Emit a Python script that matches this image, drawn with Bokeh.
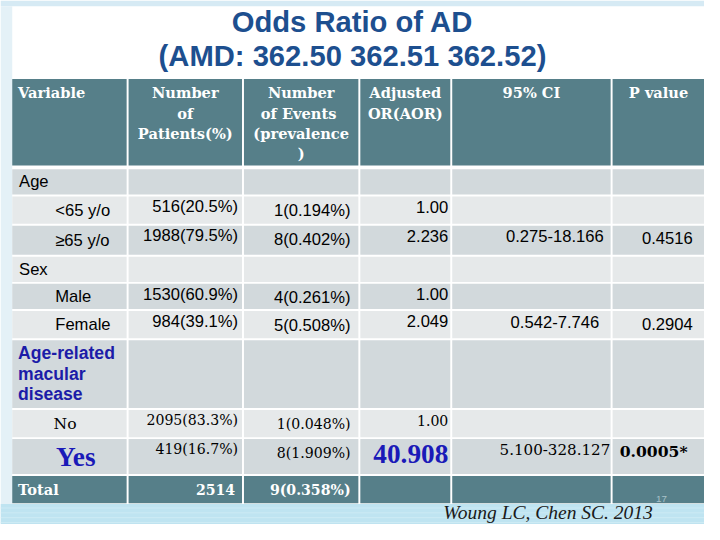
from bokeh.plotting import figure
from bokeh.models import ColumnDataSource, Range1d
from bokeh.embed import file_html
from bokeh.resources import INLINE

# ---------------- data ----------------
title_lines = ["Odds Ratio of AD", "(AMD: 362.50 362.51 362.52)"]
headers = ["Variable", "Number\nof\nPatients(%)", "Number\nof  Events\n(prevalence\n)",
           "Adjusted\nOR(AOR)", "95% CI", "P value"]
variables = ["Age", "<65 y/o", "\u226565 y/o", "Sex", "Male", "Female",
             "Age-related\nmacular\ndisease", "No", "Yes", "Total"]
patients = ["", "516(20.5%)", "1988(79.5%)", "", "1530(60.9%)", "984(39.1%)", "",
            "2095(83.3%)", "419(16.7%)", "2514"]
events = ["", "1(0.194%)", "8(0.402%)", "", "4(0.261%)", "5(0.508%)", "",
          "1(0.048%)", "8(1.909%)", "9(0.358%)"]
aor = ["", "1.00", "2.236", "", "1.00", "2.049", "", "1.00", "40.908", ""]
ci95 = ["", "", "0.275-18.166", "", "", "0.542-7.746", "", "", "5.100-328.127", ""]
p_values = ["", "", "0.4516", "", "", "0.2904", "", "", "0.0005*", ""]
citation = "Woung LC, Chen SC. 2013"
slide_number = "17"

# ---------------- layout / style (reference px, 720x540 space) ----------------
col_edges = [(12, 129), (131, 247), (249, 366), (368, 460), (462, 624), (626, 720)]
header_band = (81, 170)
row_bands = [(174, 200), (202, 230), (232, 262), (264, 290), (292, 318), (320, 348),
             (350, 420), (422, 450), (452, 488), (490, 518)]
row_kind = ["group", "sub", "sub", "group", "sub", "sub", "highlight", "serif", "big", "total"]
TEAL = "#567f89"
DARK = "#d2d9dc"
LIGHT = "#e6e9ea"
row_fill = [DARK, LIGHT, DARK, LIGHT, DARK, LIGHT, DARK, LIGHT, DARK, TEAL]
TITLE_BLUE = "#1d4f8f"
VAR_BLUE = "#1c1ca8"
BIG_BLUE = "#1a1ab8"

SANS = "Liberation Sans"
SERIF_W = "DejaVu Serif"
SERIF_N = "Liberation Serif"
FS = 0.975  # font scale (figure is 704x524 showing the 720x540 space)


def px(v):
    return "%.1fpx" % (v * FS)


p = figure(width=704, height=524, x_range=Range1d(0, 720), y_range=Range1d(540, 0),
           output_backend="svg", toolbar_location=None, min_border=0,
           x_axis_location=None, y_axis_location=None)
p.xgrid.visible = False
p.ygrid.visible = False
p.outline_line_color = None
p.background_fill_color = "white"
p.border_fill_color = "white"

# background decorations
p.quad(left=[0], right=[720], top=[0], bottom=[6], fill_color="#d6eaf4", line_color=None)
p.quad(left=[0], right=[12], top=[6], bottom=[540], fill_color="#e4f1f7", line_color=None)
p.quad(left=[0], right=[720], top=[519], bottom=[540], fill_color="#bfe4f1", line_color=None)
for yy in [523, 528, 533, 538]:
    p.line([0, 720], [yy, yy], line_color="#d4eef7", line_width=1, line_alpha=0.7)

# cells
ql, qr, qt, qb, qc = [], [], [], [], []
for (l, r) in col_edges:
    ql.append(l); qr.append(r); qt.append(header_band[0]); qb.append(header_band[1]); qc.append(TEAL)
for i, (t, b) in enumerate(row_bands):
    for (l, r) in col_edges:
        ql.append(l); qr.append(r); qt.append(t); qb.append(b); qc.append(row_fill[i])
p.quad(source=ColumnDataSource(dict(left=ql, right=qr, top=qt, bottom=qb, color=qc)),
       left="left", right="right", top="top", bottom="bottom", fill_color="color", line_color=None)

# text items
T = dict(x=[], y=[], text=[], align=[], font=[], size=[], style=[], color=[])


def add(x, y, text, align="left", font=SANS, size=17, style="normal", color="black"):
    if text == "":
        return
    T["x"].append(x); T["y"].append(y); T["text"].append(text); T["align"].append(align)
    T["font"].append(font); T["size"].append(px(size)); T["style"].append(style); T["color"].append(color)


# title
add(360, 22, title_lines[0], "center", SANS, 30, "bold", TITLE_BLUE)
add(360, 57, title_lines[1], "center", SANS, 30, "bold", TITLE_BLUE)

# headers
for j, h in enumerate(headers):
    l, r = col_edges[j]
    for k, line in enumerate(h.split("\n")):
        if j == 0:
            add(18, 95 + 21 * k, line, "left", SERIF_W, 15, "bold", "white")
        else:
            add((l + r) / 2, 95 + 21 * k, line, "center", SERIF_W, 15, "bold", "white")

# body
col_anchor = [(243, "right"), (358, "right"), (458, "right"), (567, "center"), (682, "center")]
col_offset = [10.5, 14.5, 10.5, 11, 13]
for i, (t, b) in enumerate(row_bands):
    cy = (t + b) / 2
    kind = row_kind[i]
    v = variables[i]
    if kind == "group":
        add(19, cy, v, "left", SANS, 17)
    elif kind == "sub":
        add(56, cy, v, "left", SANS, 17)
    elif kind == "highlight":
        for k, line in enumerate(v.split("\n")):
            add(18, cy - 22 + 21.5 * k, line, "left", SANS, 18, "bold", VAR_BLUE)
    elif kind == "serif":
        add(66, cy, v, "center", SERIF_W, 16)
    elif kind == "big":
        add(77, cy, v, "center", SERIF_N, 28, "bold", BIG_BLUE)
    elif kind == "total":
        add(18, cy, v, "left", SERIF_W, 15, "bold", "white")

    vals = [patients[i], events[i], aor[i], ci95[i], p_values[i]]
    for j, val in enumerate(vals):
        x, al = col_anchor[j]
        y = t + col_offset[j]
        if kind in ("group", "sub", "highlight"):
            add(x, y, val, al, SANS, 17)
        elif kind in ("serif", "big"):
            if j in (0, 1, 2):
                if kind == "big" and j == 2:
                    add(x, t + 15, val, al, SERIF_N, 28, "bold", BIG_BLUE)
                else:
                    add(x, y, val, al, SERIF_W, 14.5)
            elif j == 3:
                add(x, y, val, al, SERIF_W, 15.5)
            else:
                add(668, y, val, "center", SERIF_W, 16, "bold")
        elif kind == "total":
            xx = 240 if j == 0 else x
            add(xx, cy, val, al, SERIF_W, 14.5, "bold", "white")

# footer
add(560, 528, citation, "center", SERIF_N, 20, "italic", "#1a1a1a")
add(676, 514, slide_number, "center", SANS, 10, "normal", "#a9c2ca")

src = ColumnDataSource(T)
p.text(x="x", y="y", text="text", source=src, text_align="align", text_baseline="middle",
       text_font="font", text_font_size="size", text_font_style="style", text_color="color")

open("out.html", "w").write(file_html(p, INLINE))
